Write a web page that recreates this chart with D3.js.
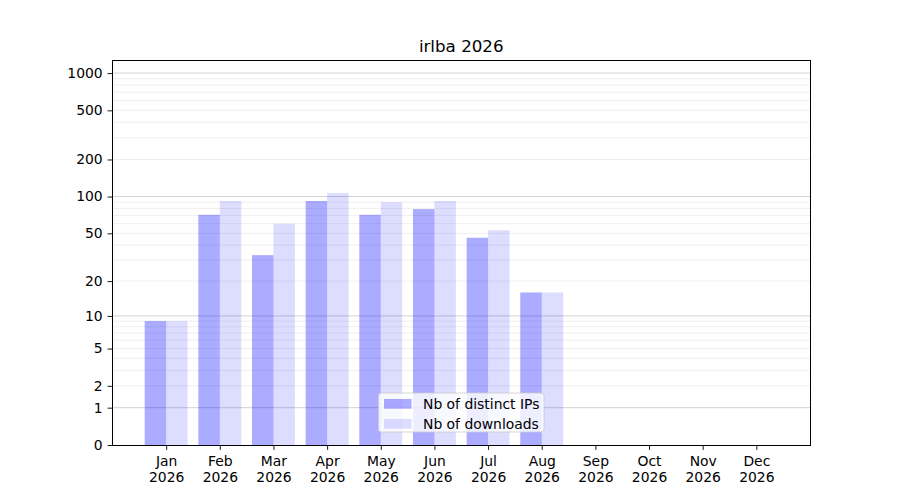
<!DOCTYPE html>
<html>
<head>
<meta charset="utf-8">
<script src="https://cdn.jsdelivr.net/npm/d3@7"></script>
<style>
body { margin: 0; background: #fff; }
text { font-family: "DejaVu Sans", sans-serif; fill: #000; }
</style>
</head>
<body>
<svg id="chart" width="900" height="500"></svg>
<script>
const title = "irlba 2026";
const months = ["Jan","Feb","Mar","Apr","May","Jun","Jul","Aug","Sep","Oct","Nov","Dec"];
const year = "2026";
const distinctIPs = [9, 71, 33, 92, 71, 79, 46, 16, 0, 0, 0, 0];
const downloads = [9, 92, 60, 107, 90, 92, 53, 16, 0, 0, 0, 0];
const seriesNames = ["Nb of distinct IPs", "Nb of downloads"];
const yTicks = [0, 1, 2, 5, 10, 20, 50, 100, 200, 500, 1000];
const majorGrid = [1, 10, 100, 1000];
const minorGrid = [2,3,4,5,6,7,8,9,20,30,40,50,60,70,80,90,200,300,400,500,600,700,800,900];

const svg = d3.select("#chart");
const L = 112.5, R = 810, T = 60, B = 445;

const x = d3.scaleLinear().domain([0, 13]).range([L, R]);
const y = d3.scaleSymlog().constant(1).domain([0, 1275]).range([B, T]);

// grid
svg.append("g").selectAll("line").data(minorGrid).join("line")
  .attr("x1", L).attr("x2", R)
  .attr("y1", d => y(d)).attr("y2", d => y(d))
  .attr("stroke", "#ebebeb").attr("stroke-width", 0.8);
svg.append("g").selectAll("line").data(majorGrid).join("line")
  .attr("x1", L).attr("x2", R)
  .attr("y1", d => y(d)).attr("y2", d => y(d))
  .attr("stroke", "#c8c8c8").attr("stroke-width", 0.8);

const bw = 0.4;
// bars
svg.append("g").selectAll("rect").data(distinctIPs).join("rect")
  .attr("x", (d, i) => x(i + 1 - bw))
  .attr("width", (d, i) => x(i + 1) - x(i + 1 - bw))
  .attr("y", d => y(d))
  .attr("height", d => y(0) - y(d))
  .attr("fill", "#0000ff").attr("fill-opacity", 0.33);
svg.append("g").selectAll("rect").data(downloads).join("rect")
  .attr("x", (d, i) => x(i + 1))
  .attr("width", (d, i) => x(i + 1 + bw) - x(i + 1))
  .attr("y", d => y(d))
  .attr("height", d => y(0) - y(d))
  .attr("fill", "#0000ff").attr("fill-opacity", 0.133);

// axes
const yAxis = d3.axisLeft(y).tickValues(yTicks).tickFormat(d3.format("d")).tickSize(4.9).tickPadding(4.9);
const gy = svg.append("g").attr("transform", `translate(${L},0)`).call(yAxis);
gy.select(".domain").remove();
gy.selectAll("text").attr("font-size", "13.9px").style("font-family", "DejaVu Sans");
gy.selectAll("line").attr("stroke", "#000").attr("stroke-width", 0.9);

const xAxis = d3.axisBottom(x).tickValues(d3.range(1, 13)).tickFormat("").tickSize(4.9);
const gx = svg.append("g").attr("transform", `translate(0,${B})`).call(xAxis);
gx.select(".domain").remove();
gx.selectAll("line").attr("stroke", "#000").attr("stroke-width", 0.9);
gx.selectAll(".tick").each(function(d) {
  const t = d3.select(this).append("text")
    .attr("text-anchor", "middle").attr("font-size", "13.9px")
    .style("font-family", "DejaVu Sans");
  t.append("tspan").attr("x", 0).attr("y", 21).text(months[d - 1]);
  t.append("tspan").attr("x", 0).attr("y", 37).text(year);
});

// frame
svg.append("rect").attr("x", L).attr("y", T).attr("width", R - L).attr("height", B - T)
  .attr("fill", "none").attr("stroke", "#000").attr("stroke-width", 1)
  .attr("shape-rendering", "crispEdges");

// title
svg.append("text").attr("x", (L + R) / 2).attr("y", 52)
  .attr("text-anchor", "middle").attr("font-size", "16.7px").text(title);

// legend
const lg = svg.append("g");
lg.append("rect").attr("x", 378.5).attr("y", 393).attr("width", 165.5).attr("height", 39)
  .attr("rx", 3).attr("fill", "#fff").attr("fill-opacity", 0.8)
  .attr("stroke", "#cccccc").attr("stroke-width", 0.8);
const opac = [0.33, 0.133];
seriesNames.forEach((n, i) => {
  const cy = 404 + i * 20;
  lg.append("rect").attr("x", 384).attr("y", cy - 5).attr("width", 27.5).attr("height", 9.7)
    .attr("fill", "#0000ff").attr("fill-opacity", opac[i]);
  lg.append("text").attr("x", 423).attr("y", cy + 5).attr("font-size", "13.9px").text(n);
});
</script>
</body>
</html>
